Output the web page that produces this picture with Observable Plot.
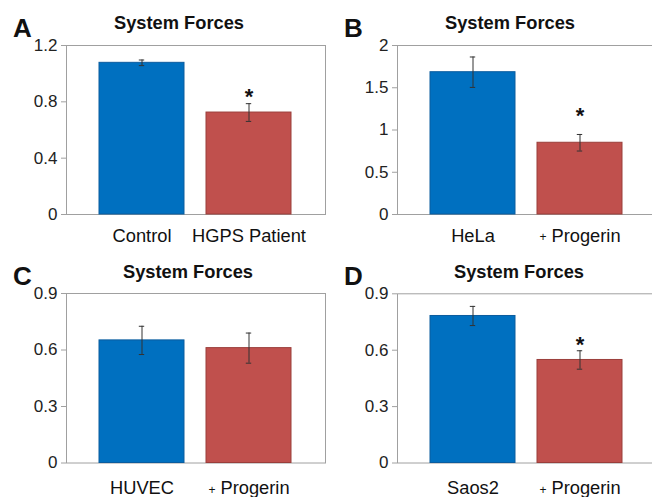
<!DOCTYPE html>
<html><head><meta charset="utf-8">
<script src="https://cdn.jsdelivr.net/npm/d3@7"></script>
<script src="https://cdn.jsdelivr.net/npm/@observablehq/plot@0.6"></script>
<style>
html,body{margin:0;padding:0;background:#fff;overflow:hidden;}
#root{position:relative;width:652px;height:497px;overflow:hidden;font-family:"Liberation Sans",Arial,sans-serif;}
.panel{position:absolute;}
.panel svg{display:block;overflow:visible;}
.title{position:absolute;font-weight:bold;font-size:18.3px;line-height:18.3px;white-space:nowrap;transform:translateX(-50%) scaleY(1.05);color:#111;}
.letter{position:absolute;font-weight:bold;font-size:26px;line-height:26px;color:#111;}
</style></head><body><div id="root"></div>
<script>
// ---- data ----
const panelLetters = ["A", "B", "C", "D"];
const panelTitles = ["System Forces", "System Forces", "System Forces", "System Forces"];
const categoriesA = ["Control", "HGPS Patient"];
const categoriesB = ["HeLa", "+ Progerin"];
const categoriesC = ["HUVEC", "+ Progerin"];
const categoriesD = ["Saos2", "+ Progerin"];
const meansA = [1.077, 0.724];
const meansB = [1.684, 0.849];
const meansC = [0.651, 0.610];
const meansD = [0.782, 0.548];
const errorsA = [0.020, 0.063];
const errorsB = [0.180, 0.098];
const errorsC = [0.075, 0.080];
const errorsD = [0.051, 0.049];
const significantA = [false, true];
const significantB = [false, true];
const significantC = [false, false];
const significantD = [false, true];
const starLevelA = [null, 0.88];
const starLevelB = [null, 1.24];
const starLevelC = [null, null];
const starLevelD = [null, 0.66];
const yMaxA = 1.2, yMaxB = 2, yMaxC = 0.9, yMaxD = 0.9;
const yTicksA = [0, 0.4, 0.8, 1.2];
const yTicksB = [0, 0.5, 1, 1.5, 2];
const yTicksC = [0, 0.3, 0.6, 0.9];
const yTicksD = [0, 0.3, 0.6, 0.9];
const barColors = ["#0070C0", "#C0504D"];
const barStrokes = ["#0b5c9e", "#9a3e3b"];

const panels = [
  {cats: categoriesA, means: meansA, errs: errorsA, sig: significantA, star: starLevelA, yMax: yMaxA, ticks: yTicksA},
  {cats: categoriesB, means: meansB, errs: errorsB, sig: significantB, star: starLevelB, yMax: yMaxB, ticks: yTicksB},
  {cats: categoriesC, means: meansC, errs: errorsC, sig: significantC, star: starLevelC, yMax: yMaxC, ticks: yTicksC},
  {cats: categoriesD, means: meansD, errs: errorsD, sig: significantD, star: starLevelD, yMax: yMaxD, ticks: yTicksD}
];

// ---- layout (page geometry) ----
const layouts = [
  {left: 0,   top: 0,   width: 326, height: 250, mL: 66, mT: 45,   mB: 36,   pad: 14,   titleX: 179, titleTop: 13.5,  letterX: 13,  letterTop: 14.5},
  {left: 326, top: 0,   width: 331, height: 250, mL: 71, mT: 45,   mB: 36,   pad: 14,   titleX: 184, titleTop: 13.5,  letterX: 18,  letterTop: 14.5},
  {left: 0,   top: 250, width: 326, height: 247, mL: 66, mT: 43,   mB: 34.5, pad: 18,   titleX: 188, titleTop: 12.5,  letterX: 13,  letterTop: 12.8},
  {left: 326, top: 250, width: 331, height: 247, mL: 71, mT: 43.3, mB: 34.5, pad: 18,   titleX: 193, titleTop: 12.5,  letterX: 18,  letterTop: 12.8}
];

const root = document.getElementById("root");
const fmt = d => String(d);

panels.forEach((p, i) => {
  const L = layouts[i];
  const rows = p.cats.map((c, j) => ({
    cat: c, mean: p.means[j], lo: p.means[j] - p.errs[j], hi: p.means[j] + p.errs[j],
    fill: barColors[j], stroke: barStrokes[j], sig: p.sig[j], star: p.star[j]
  }));
  const stars = rows.filter(r => r.sig);

  const chart = Plot.plot({
    width: L.width, height: L.height,
    marginLeft: L.mL, marginRight: 1, marginTop: L.mT, marginBottom: L.mB,
    style: {fontFamily: '"Liberation Sans", Arial, sans-serif', background: "transparent", overflow: "visible"},
    x: {domain: p.cats, paddingInner: 0.204, paddingOuter: 0.306, axis: null},
    y: {domain: [0, p.yMax], axis: null},
    marks: [
      Plot.frame({stroke: "#a0a0a0"}),
      Plot.axisY({ticks: p.ticks, tickFormat: fmt, tickSize: 5, tickPadding: 4, fontSize: 17, color: "#222", stroke: "#a0a0a0", label: null}),
      Plot.axisX({tickSize: 0, tickPadding: L.pad, fontSize: 18.3, color: "#111", label: null}),
      Plot.barY(rows, {x: "cat", y: "mean", fill: "fill", stroke: "stroke", strokeWidth: 1}),
      Plot.ruleX(rows, {x: "cat", y1: "lo", y2: "hi", stroke: "#333", strokeWidth: 1}),
      Plot.tickY(rows, {x: "cat", y: "lo", stroke: "#333", strokeWidth: 1, insetLeft: 39.8, insetRight: 39.8}),
      Plot.tickY(rows, {x: "cat", y: "hi", stroke: "#333", strokeWidth: 1, insetLeft: 39.8, insetRight: 39.8}),
      Plot.text(stars, {x: "cat", y: "star", text: () => "*", fontSize: 22, fontWeight: "bold", lineAnchor: "middle", dy: 6, fill: "#111"})
    ]
  });

  // smaller "+" in "+ Progerin"
  d3.select(chart).selectAll("text").filter(function () { return this.textContent === "+ Progerin"; })
    .each(function () {
      const t = d3.select(this);
      t.text(null);
      t.append("tspan").attr("font-size", 12).text("+");
      t.append("tspan").text(" Progerin");
    });

  const div = document.createElement("div");
  div.className = "panel";
  div.style.left = L.left + "px";
  div.style.top = L.top + "px";
  div.style.width = L.width + "px";
  div.style.height = L.height + "px";
  div.appendChild(chart);

  const title = document.createElement("div");
  title.className = "title";
  title.style.left = L.titleX + "px";
  title.style.top = L.titleTop + "px";
  title.textContent = panelTitles[i];
  div.appendChild(title);

  const letter = document.createElement("div");
  letter.className = "letter";
  letter.style.left = L.letterX + "px";
  letter.style.top = L.letterTop + "px";
  letter.textContent = panelLetters[i];
  div.appendChild(letter);

  root.appendChild(div);
});
</script>
</body></html>
